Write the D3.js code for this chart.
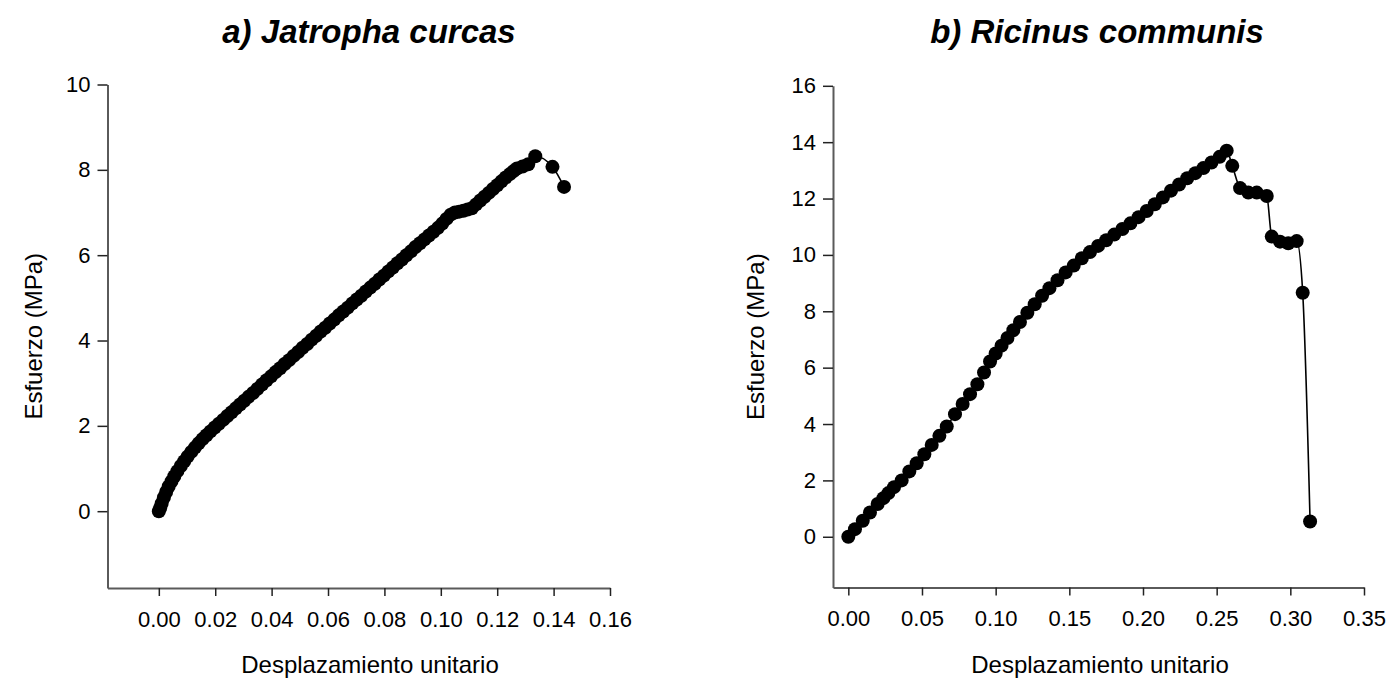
<!DOCTYPE html>
<html>
<head>
<meta charset="utf-8">
<script src="https://cdn.jsdelivr.net/npm/d3@7"></script>
<style>
  html, body { margin: 0; padding: 0; background: #fff; }
  svg { display: block; font-family: "Liberation Sans", Arial, Helvetica, sans-serif; }
</style>
</head>
<body>
<svg id="chart" width="1392" height="681"></svg>
<script>
// ---- Data: a) Jatropha curcas ----
const jatrophaX = [0.0000,0.0005,0.0010,0.0018,0.0026,0.0035,0.0045,0.0055,0.0066,0.0078,0.0090,0.0102,0.0115,0.0128,0.0141,0.0155,0.0169,0.0183,0.0198,0.0213,0.0228,0.0243,0.0258,0.0273,0.0288,0.0303,0.0318,0.0334,0.0350,0.0366,0.0382,0.0398,0.0414,0.0430,0.0446,0.0462,0.0478,0.0494,0.0510,0.0526,0.0542,0.0558,0.0574,0.0590,0.0606,0.0622,0.0638,0.0654,0.0670,0.0686,0.0702,0.0718,0.0734,0.0750,0.0766,0.0782,0.0798,0.0814,0.0830,0.0846,0.0862,0.0878,0.0894,0.0910,0.0926,0.0942,0.0958,0.0974,0.0990,0.1005,0.1020,0.1035,0.1050,0.1065,0.1080,0.1095,0.1110,0.1125,0.1140,0.1155,0.1170,0.1185,0.1200,0.1215,0.1230,0.1245,0.1258,0.1270,0.1290,0.1310,0.1335,0.1396,0.1437];
const jatrophaY = [0.00,0.08,0.18,0.32,0.45,0.58,0.70,0.82,0.94,1.06,1.17,1.28,1.39,1.49,1.59,1.69,1.78,1.87,1.96,2.05,2.14,2.23,2.32,2.41,2.50,2.59,2.68,2.77,2.87,2.97,3.07,3.16,3.26,3.35,3.45,3.54,3.64,3.73,3.83,3.92,4.02,4.11,4.21,4.30,4.40,4.49,4.59,4.68,4.77,4.87,4.96,5.05,5.15,5.24,5.33,5.43,5.52,5.62,5.71,5.81,5.90,6.00,6.09,6.19,6.28,6.37,6.46,6.55,6.64,6.74,6.85,6.95,7.00,7.02,7.04,7.07,7.10,7.19,7.28,7.37,7.46,7.55,7.64,7.73,7.82,7.90,7.97,8.03,8.08,8.13,8.32,8.07,7.60];

// ---- Data: b) Ricinus communis ----
const ricinusX = [0.0000,0.0045,0.0098,0.0147,0.0199,0.0238,0.0272,0.0310,0.0362,0.0414,0.0464,0.0516,0.0566,0.0618,0.0668,0.0724,0.0776,0.0826,0.0876,0.0921,0.0962,0.1000,0.1040,0.1080,0.1120,0.1165,0.1215,0.1265,0.1315,0.1365,0.1420,0.1475,0.1530,0.1585,0.1640,0.1695,0.1750,0.1805,0.1860,0.1915,0.1970,0.2025,0.2080,0.2135,0.2190,0.2245,0.2300,0.2355,0.2410,0.2465,0.2520,0.2568,0.2606,0.2659,0.2715,0.2772,0.2840,0.2874,0.2930,0.2986,0.3043,0.3084,0.3134];
const ricinusY = [0.00,0.27,0.57,0.86,1.16,1.37,1.55,1.76,2.00,2.32,2.61,2.93,3.26,3.58,3.91,4.35,4.71,5.06,5.41,5.83,6.22,6.50,6.78,7.05,7.33,7.62,7.95,8.25,8.55,8.82,9.10,9.38,9.62,9.88,10.10,10.32,10.52,10.72,10.92,11.12,11.34,11.56,11.80,12.04,12.28,12.50,12.72,12.90,13.08,13.28,13.48,13.70,13.16,12.37,12.21,12.21,12.09,10.65,10.47,10.41,10.49,8.66,0.54];

// ---- Axis ticks & labels ----
const jatrophaXTicks = [0.00,0.02,0.04,0.06,0.08,0.10,0.12,0.14,0.16];
const jatrophaYTicks = [0,2,4,6,8,10];
const ricinusXTicks = [0.00,0.05,0.10,0.15,0.20,0.25,0.30,0.35];
const ricinusYTicks = [0,2,4,6,8,10,12,14,16];
const titles = ["a) Jatropha curcas", "b) Ricinus communis"];
const xLabel = "Desplazamiento unitario";
const yLabel = "Esfuerzo (MPa)";

const svg = d3.select("#chart");
const axisColor = "#5a5a5a";

function panel(cfg) {
  const x = d3.scaleLinear().domain(cfg.xDomain).range([cfg.left, cfg.right]);
  const y = d3.scaleLinear().domain(cfg.yDomain).range([cfg.bottom, cfg.top]);
  const g = svg.append("g");

  const gx = g.append("g")
    .attr("transform", `translate(0,${cfg.bottom})`)
    .call(d3.axisBottom(x).tickValues(cfg.xTicks).tickFormat(d3.format(".2f"))
      .tickSizeInner(8).tickSizeOuter(0).tickPadding(15));
  const gy = g.append("g")
    .attr("transform", `translate(${cfg.left},0)`)
    .call(d3.axisLeft(y).tickValues(cfg.yTicks).tickFormat(d3.format("d"))
      .tickSizeInner(10).tickSizeOuter(0).tickPadding(7));

  [gx, gy].forEach(a => {
    a.select(".domain").attr("stroke", axisColor).attr("stroke-width", 2);
    a.selectAll(".tick line").attr("stroke", "#222").attr("stroke-width", 1.5);
    a.selectAll(".tick text").attr("fill", "#000").style("font-size", "22px")
      .style("font-family", '"Liberation Sans", Arial, sans-serif');
  });

  const pts = cfg.xs.map((v, i) => [v, cfg.ys[i]]);
  g.append("path")
    .datum(pts)
    .attr("fill", "none")
    .attr("stroke", "#000")
    .attr("stroke-width", 1.6)
    .attr("d", d3.line().x(d => x(d[0])).y(d => y(d[1])).curve(d3.curveMonotoneX));

  g.selectAll("circle.pt")
    .data(pts)
    .join("circle")
    .attr("class", "pt")
    .attr("cx", d => x(d[0]))
    .attr("cy", d => y(d[1]))
    .attr("r", 7)
    .attr("fill", "#000");

  g.append("text")
    .attr("x", cfg.titleX)
    .attr("y", 43)
    .attr("text-anchor", "middle")
    .style("font-size", "33px")
    .style("font-weight", "bold")
    .style("font-style", "italic")
    .text(cfg.title);

  g.append("text")
    .attr("x", cfg.xLabelX)
    .attr("y", 673)
    .attr("text-anchor", "middle")
    .style("font-size", "24px")
    .text(xLabel);

  g.append("text")
    .attr("transform", `translate(${cfg.yLabelX},${(cfg.top + cfg.bottom) / 2}) rotate(-90)`)
    .attr("text-anchor", "middle")
    .style("font-size", "24px")
    .text(yLabel);
}

panel({
  xs: jatrophaX, ys: jatrophaY,
  xDomain: [-0.0182, 0.16], yDomain: [-1.8, 10],
  left: 107.5, right: 610, top: 84.5, bottom: 588,
  xTicks: jatrophaXTicks, yTicks: jatrophaYTicks,
  title: titles[0], titleX: 369, xLabelX: 370, yLabelX: 42
});

panel({
  xs: ricinusX, ys: ricinusY,
  xDomain: [-0.0104, 0.35], yDomain: [-1.8, 16],
  left: 833, right: 1364, top: 85.8, bottom: 587.5,
  xTicks: ricinusXTicks, yTicks: ricinusYTicks,
  title: titles[1], titleX: 1097, xLabelX: 1100, yLabelX: 764
});
</script>
</body>
</html>
